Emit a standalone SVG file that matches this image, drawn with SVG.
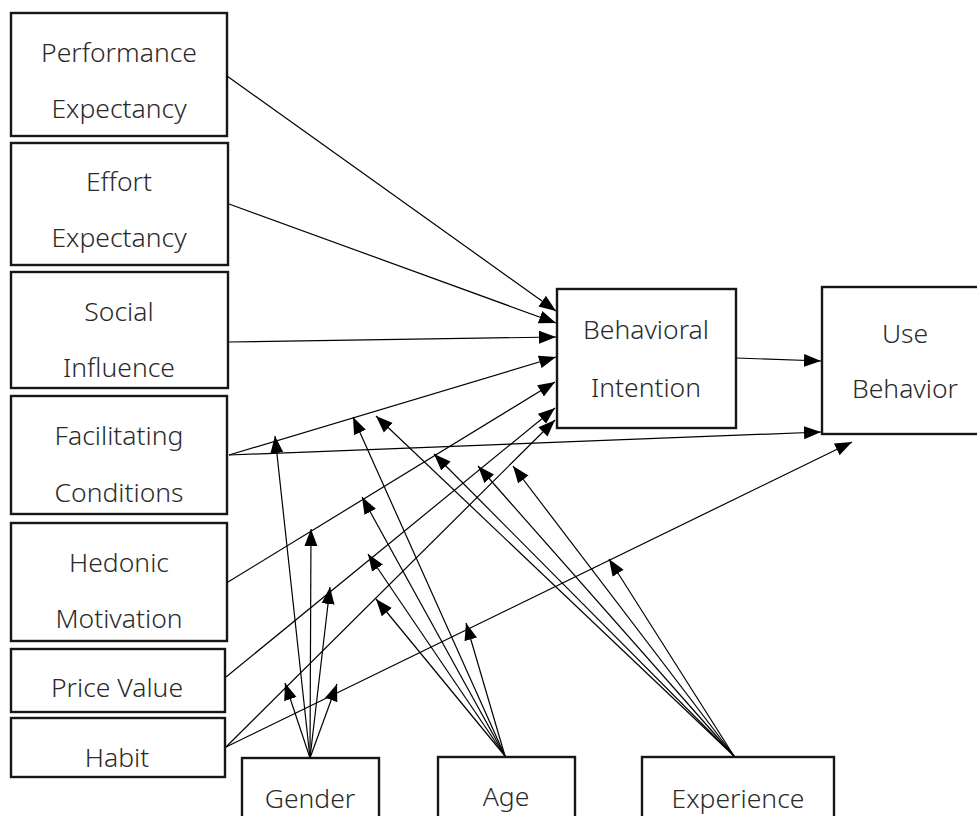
<svg xmlns="http://www.w3.org/2000/svg" width="977" height="816" viewBox="0 0 977 816">
<style>
.box{fill:#fff;stroke:#161616;stroke-width:2.4}
.t{font-family:"Noto Sans","Open Sans",sans-serif;font-size:26.5px;font-weight:300;fill:#2a2a2a;text-anchor:middle}
.c{stroke:#000;stroke-width:1.2;fill:none;marker-end:url(#ah)}
</style>
<defs>
<marker id="ah" markerUnits="userSpaceOnUse" markerWidth="17" markerHeight="14" refX="17" refY="7" orient="auto">
<path d="M0,0.5 L17,7 L0,13.5 z" fill="#000"/>
</marker>
</defs>
<rect width="977" height="816" fill="#fff"/>
<g id="pe"><rect class="box" x="11" y="13" width="216" height="123"/><text class="t" x="119" y="62">Performance</text><text class="t" x="119" y="118">Expectancy</text></g>
<g id="ee"><rect class="box" x="11" y="143" width="217" height="122"/><text class="t" x="119" y="191">Effort</text><text class="t" x="119" y="247">Expectancy</text></g>
<g id="si"><rect class="box" x="11" y="272" width="217" height="116"/><text class="t" x="119" y="321">Social</text><text class="t" x="119" y="377">Influence</text></g>
<g id="fc"><rect class="box" x="11" y="396" width="216" height="118"/><text class="t" x="119" y="445">Facilitating</text><text class="t" x="119" y="502">Conditions</text></g>
<g id="hm"><rect class="box" x="11" y="523" width="216" height="118"/><text class="t" x="119" y="572">Hedonic</text><text class="t" x="119" y="628">Motivation</text></g>
<g id="pv"><rect class="box" x="11" y="649" width="214" height="63"/><text class="t" x="117" y="697">Price Value</text></g>
<g id="hb"><rect class="box" x="11" y="718" width="214" height="59"/><text class="t" x="117" y="767">Habit</text></g>
<g id="bi"><rect class="box" x="557" y="289" width="179" height="139"/><text class="t" x="646" y="339">Behavioral</text><text class="t" x="646" y="397">Intention</text></g>
<g id="ub"><rect class="box" x="822" y="287" width="170" height="147"/><text class="t" x="905" y="343">Use</text><text class="t" x="905" y="398">Behavior</text></g>
<g id="gender"><rect class="box" x="242" y="758" width="137" height="80"/><text class="t" x="310" y="808">Gender</text></g>
<g id="age"><rect class="box" x="438" y="757" width="137" height="80"/><text class="t" x="506" y="806">Age</text></g>
<g id="exp"><rect class="box" x="642" y="757" width="192" height="80"/><text class="t" x="738" y="808">Experience</text></g>
<g id="connectors">
<path class="c" d="M227,76 L556,311"/>
<path class="c" d="M229,204 L556,323"/>
<path class="c" d="M229,342 L556,337"/>
<path class="c" d="M229,455 L556,357"/>
<path class="c" d="M229,455 L821,432"/>
<path class="c" d="M228,582 L555,382"/>
<path class="c" d="M226,677 L555,408"/>
<path class="c" d="M226,747 L555,420"/>
<path class="c" d="M226,747 L852,442"/>
<path class="c" d="M736,358 L821,361"/>
<path class="c" d="M310,758 L275,436"/>
<path class="c" d="M310,758 L311,529"/>
<path class="c" d="M310,758 L330,587"/>
<path class="c" d="M310,758 L285,683"/>
<path class="c" d="M310,758 L337,684"/>
<path class="c" d="M505,756 L353,417"/>
<path class="c" d="M505,756 L362,497"/>
<path class="c" d="M505,756 L368,554"/>
<path class="c" d="M505,756 L376,599"/>
<path class="c" d="M505,756 L466,623"/>
<path class="c" d="M734,756 L376,416"/>
<path class="c" d="M734,756 L434,454"/>
<path class="c" d="M734,756 L478,466"/>
<path class="c" d="M734,756 L513,466"/>
<path class="c" d="M734,756 L609,559"/>
</g>
</svg>
